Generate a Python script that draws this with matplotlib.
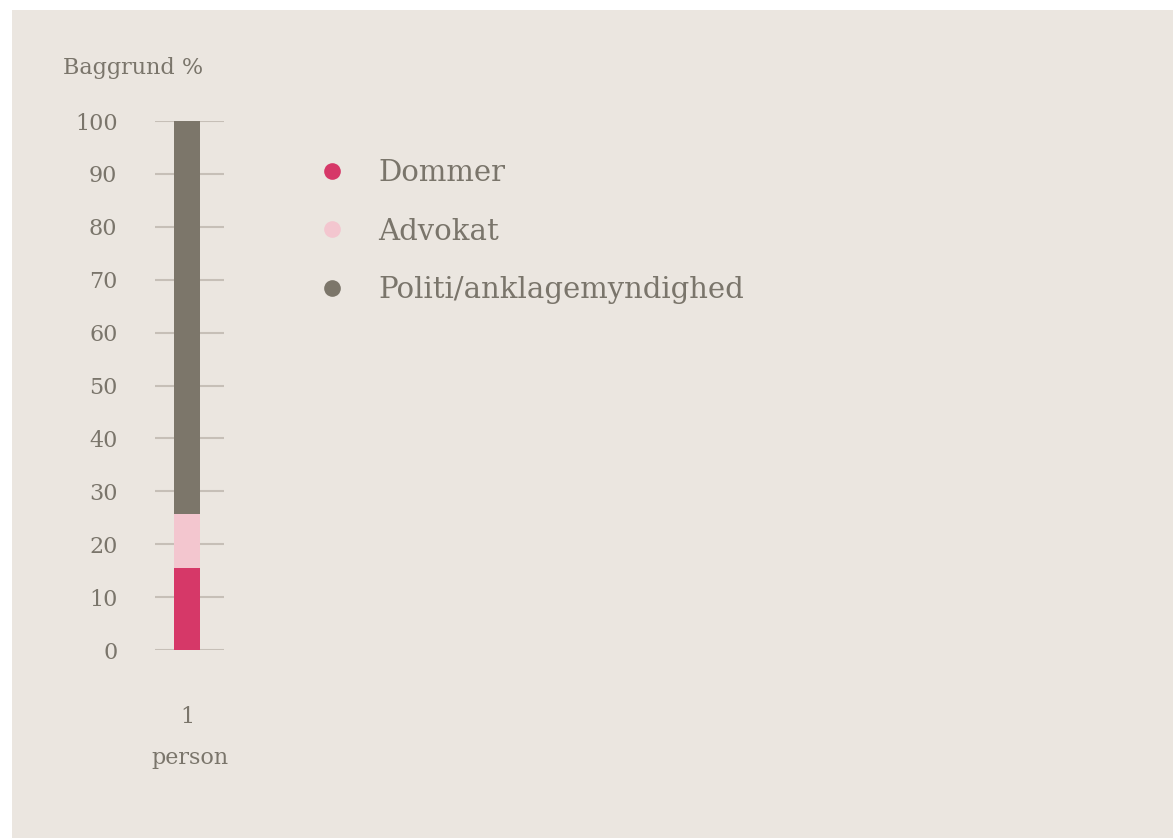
import matplotlib.pyplot as plt
from matplotlib.lines import Line2D
from matplotlib.patches import Rectangle

categories = ["1"]
series_names = ["Dommer", "Advokat", "Politi/anklagemyndighed"]
dommer = [15.5]
advokat = [10.2]
politi = [74.3]
y_ticks = [0, 10, 20, 30, 40, 50, 60, 70, 80, 90, 100]

BG = "#ebe6e0"
TEXT = "#7a756b"
GRID = "#c6bfb7"
COLORS = ["#d63868", "#f3c6cf", "#7c766a"]

plt.rcParams["font.family"] = ["DejaVu Serif"]

fig = plt.figure(figsize=(11.73, 8.38), dpi=100)
fig.patch.set_facecolor("white")
fig.patches.append(Rectangle((12 / 1173, 0), 1, 1 - 10 / 838, transform=fig.transFigure,
                             facecolor=BG, edgecolor="none", zorder=-10))

ax = fig.add_axes([155 / 1173, 1 - 650 / 838, 69 / 1173, 529 / 838])
ax.set_facecolor("none")

xs = list(range(len(categories)))
bottoms = [0] * len(xs)
for name, vals, color in zip(series_names, [dommer, advokat, politi], COLORS):
    ax.bar(xs, vals, width=0.377, bottom=bottoms, color=color, zorder=3)
    bottoms = [b + v for b, v in zip(bottoms, vals)]

ax.set_ylim(0, 100)
ax.set_xlim(-0.464, 0.536)
ax.set_yticks(y_ticks)
ax.set_xticks(xs)
ax.set_xticklabels(categories)
ax.grid(axis="y", color=GRID, linewidth=1.5, zorder=0)
ax.tick_params(axis="both", length=0, labelcolor=TEXT, labelsize=16)
ax.tick_params(axis="y", pad=27)
ax.tick_params(axis="x", pad=40)
for s in ax.spines.values():
    s.set_visible(False)
ax.set_xlabel("person", color=TEXT, fontsize=16, labelpad=14)
fig.text(63 / 1173, 1 - 68 / 838, "Baggrund %", color=TEXT, fontsize=16, va="center", ha="left")

handles = [Line2D([], [], marker="o", linestyle="none", markersize=12,
                  markerfacecolor=c, markeredgecolor="none") for c in COLORS]
leg = fig.legend(handles, series_names, loc="upper left",
                 bbox_to_anchor=(284 / 1173, 1 - 133 / 838), frameon=False,
                 fontsize=21, labelspacing=1.04, handletextpad=0.83, handlelength=1.5)
for t in leg.get_texts():
    t.set_color(TEXT)

fig.savefig("out.png", dpi=100, facecolor=fig.get_facecolor())
